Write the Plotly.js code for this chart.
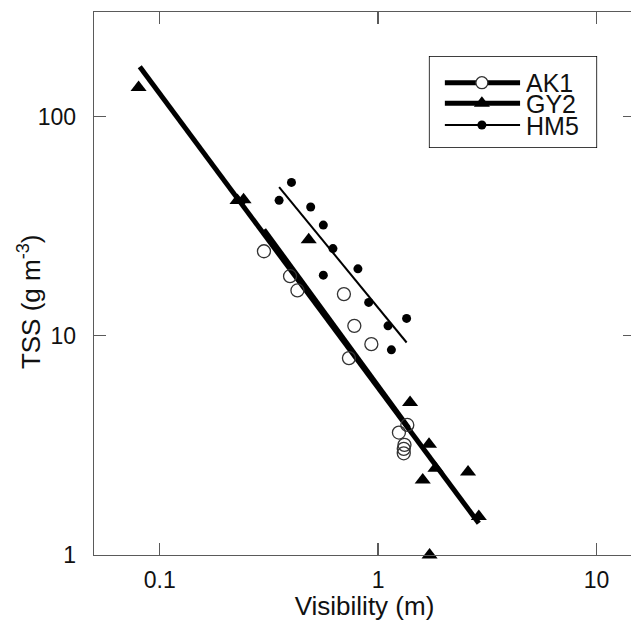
<!DOCTYPE html>
<html>
<head>
<meta charset="utf-8">
<script src="https://cdn.plot.ly/plotly-3.0.1.min.js"></script>
<style>
html,body{margin:0;padding:0;overflow:hidden;background:#fff;}
#chart{width:640px;height:621px;}
</style>
</head>
<body>
<div id="chart"></div>
<script>
// ---- data ----
const seriesNames = ['AK1', 'GY2', 'HM5'];

const ak1Vis = [0.300, 0.395, 0.427, 0.697, 0.778, 0.931, 0.735, 1.36, 1.245, 1.32, 1.31, 1.31];
const ak1TSS = [24.3, 18.7, 16.1, 15.5, 11.1, 9.16, 7.91, 3.92, 3.62, 3.18, 3.05, 2.91];

const gy2Vis = [0.080, 0.227, 0.242, 0.481, 1.40, 1.71, 1.83, 1.60, 2.58, 2.89, 1.72];
const gy2TSS = [135.7, 41.4, 41.8, 27.4, 4.96, 3.2, 2.49, 2.20, 2.39, 1.50, 1.0];

const hm5Vis = [0.401, 0.352, 0.491, 0.561, 0.621, 0.808, 0.561, 0.905, 1.11, 1.35, 1.15];
const hm5TSS = [50.1, 41.5, 38.7, 32.0, 25.0, 20.2, 18.9, 14.2, 11.1, 12.0, 8.63];

// fitted regression lines (end points)
const ak1FitVis = [0.30, 1.38];
const ak1FitTSS = [30.5, 3.8];
const gy2FitVis = [0.081, 2.89];
const gy2FitTSS = [168.6, 1.395];
const hm5FitVis = [0.352, 1.35];
const hm5FitTSS = [47.7, 9.32];

const xTickVals = [0.1, 1, 10];
const xTickText = ['0.1', '1', '10'];
const yTickVals = [1, 10, 100];
const yTickText = ['1', '10', '100'];

const xTitle = 'Visibility (m)';
const yTitle = 'TSS (g m<sup>-3</sup>)';

// ---- styling ----
const FONT = 'Liberation Sans, Arial, sans-serif';
const INK = '#111';
const AXC = '#5a5a5a';

const traces = [
  {x: gy2FitVis, y: gy2FitTSS, mode: 'lines', line: {color: '#000', width: 5}, showlegend: false, hoverinfo: 'skip'},
  {x: ak1FitVis, y: ak1FitTSS, mode: 'lines', line: {color: '#000', width: 5}, showlegend: false, hoverinfo: 'skip'},
  {x: hm5FitVis, y: hm5FitTSS, mode: 'lines', line: {color: '#000', width: 2}, showlegend: false, hoverinfo: 'skip'},
  {x: ak1Vis, y: ak1TSS, mode: 'markers', name: 'AK1', cliponaxis: false, showlegend: false,
   marker: {symbol: 'circle-open', size: 13, color: '#333', line: {width: 1.3, color: '#333'}}},
  {x: gy2Vis, y: gy2TSS, mode: 'markers', name: 'GY2', cliponaxis: false, showlegend: false,
   marker: {symbol: 'triangle-up', size: 14, color: '#000'}},
  {x: hm5Vis, y: hm5TSS, mode: 'markers', name: 'HM5', cliponaxis: false, showlegend: false,
   marker: {symbol: 'circle', size: 9, color: '#000'}}
];

// ---- hand-made legend on an overlay axis ----
const legLineX = [0.095, 0.542];
const legMarkX = 0.315;
const legRowY = [0.71, 0.486, 0.25];
const legLineW = [5, 5, 2];
const legMarkers = [
  {symbol: 'circle', size: 12, color: '#fff', line: {width: 1.3, color: '#333'}},
  {symbol: 'triangle-up', size: 14, color: '#000'},
  {symbol: 'circle', size: 9, color: '#000'}
];
for (let i = 0; i < seriesNames.length; i++) {
  traces.push({x: legLineX, y: [legRowY[i], legRowY[i]], xaxis: 'x2', yaxis: 'y2', mode: 'lines',
    line: {color: '#000', width: legLineW[i]}, showlegend: false, hoverinfo: 'skip'});
  traces.push({x: [legMarkX], y: [legRowY[i]], xaxis: 'x2', yaxis: 'y2', mode: 'markers',
    marker: legMarkers[i], showlegend: false, hoverinfo: 'skip'});
}
const annotations = seriesNames.map((n, i) => ({
  text: n, x: 0.568, y: legRowY[i], xref: 'x2', yref: 'y2', xanchor: 'left', yanchor: 'middle',
  height: 21, valign: 'middle',
  showarrow: false, font: {family: FONT, size: 25, color: INK}
}));
// y axis title placed as rotated annotation
annotations.push({
  text: yTitle, textangle: -90, x: -0.118, y: 0.466, xref: 'paper', yref: 'paper',
  xanchor: 'center', yanchor: 'middle', showarrow: false,
  font: {family: FONT, size: 26, color: INK}
});

const layout = {
  width: 640, height: 621,
  margin: {l: 94, r: 5, t: 12, b: 66},
  paper_bgcolor: '#fff', plot_bgcolor: '#fff',
  font: {family: FONT, size: 23, color: INK},
  showlegend: false,
  xaxis: {
    type: 'log', range: [Math.log10(0.05), Math.log10(15)],
    tickvals: xTickVals, ticktext: xTickText,
    ticks: 'inside', ticklen: 12, tickwidth: 1.3, tickcolor: AXC,
    showline: true, linecolor: AXC, linewidth: 1.3, mirror: 'ticks',
    showgrid: false, zeroline: false, ticklabelstandoff: 4,
    tickfont: {family: FONT, size: 23, color: INK},
    title: {text: xTitle, font: {family: FONT, size: 26, color: INK}, standoff: 2}
  },
  yaxis: {
    type: 'log', range: [0, Math.log10(300)],
    tickvals: yTickVals, ticktext: yTickText,
    ticks: 'inside', ticklen: 12, tickwidth: 1.3, tickcolor: AXC,
    showline: true, linecolor: AXC, linewidth: 1.3, mirror: 'ticks',
    showgrid: false, zeroline: false, ticklabelstandoff: 12,
    tickfont: {family: FONT, size: 23, color: INK}
  },
  xaxis2: {domain: [0.619, 0.930], range: [0, 1], anchor: 'y2', visible: false, fixedrange: true},
  yaxis2: {domain: [0.7495, 0.919], range: [0, 1], anchor: 'x2', visible: false, fixedrange: true},
  shapes: [{type: 'rect', xref: 'x2', yref: 'y2', x0: 0, x1: 1, y0: 0, y1: 1,
            line: {color: '#000', width: 1.6}, fillcolor: 'rgba(0,0,0,0)', layer: 'above'}],
  annotations: annotations
};

Plotly.newPlot('chart', traces, layout, {staticPlot: true, displayModeBar: false});
</script>
</body>
</html>
